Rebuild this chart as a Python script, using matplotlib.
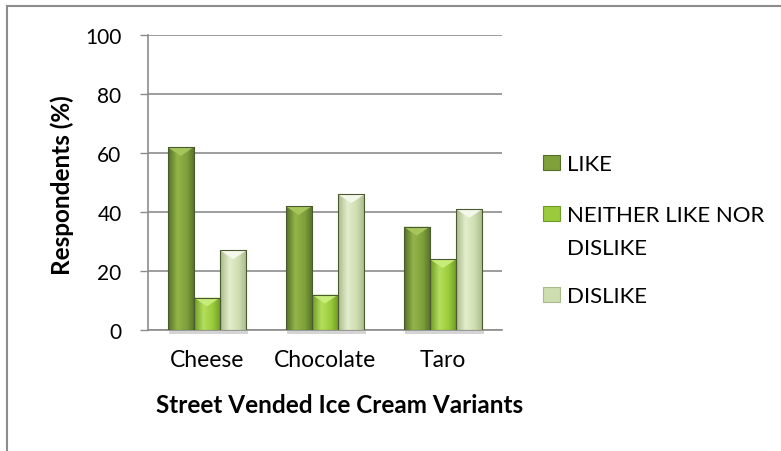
import numpy as np
import matplotlib
matplotlib.use("Agg")
import matplotlib.pyplot as plt
from matplotlib.patches import Rectangle, Polygon
from matplotlib.colors import LinearSegmentedColormap
from matplotlib.lines import Line2D

categories = ["Cheese", "Chocolate", "Taro"]
series_names = ["LIKE", "NEITHER LIKE NOR\nDISLIKE", "DISLIKE"]
like = [62, 42, 35]
neither = [11, 12, 24]
dislike = [27, 46, 41]
y_ticks = [0, 20, 40, 60, 80, 100]

# (edge-dark, mid, highlight, bevel) for each series' cylinder-like shading
palettes = [
    ("#55702a", "#7fa03a", "#93b548", "#a6c65c"),
    ("#6f9a26", "#9acb3c", "#b4df5c", "#c8ec7a"),
    ("#a9b98a", "#cfdeb0", "#e3edcd", "#f4f8ea"),
]

FONT = "Lato"
plt.rcParams["font.family"] = FONT

W, H = 781, 452
fig = plt.figure(figsize=(W / 100, H / 100), dpi=100)
ax = fig.add_axes([148 / W, 121 / H, 354 / W, 295 / H])


def fx(px):
    return px / W


def fy(py):
    return 1 - py / H


bar_w = 0.223
x = np.arange(len(categories))
values = [like, neither, dislike]

grad = np.linspace(0, 1, 64).reshape(1, -1)
for s, vals in enumerate(values):
    dark, mid, light, bevel = palettes[s]
    cmap = LinearSegmentedColormap.from_list(
        f"s{s}", [(0, dark), (0.35, light), (0.7, mid), (1, dark)])
    offs = (s - 1) * bar_w
    for i, v in enumerate(vals):
        left = x[i] + offs - bar_w / 2
        # soft shadow under the bar
        ax.add_patch(Rectangle((left + 0.01, -1.2), bar_w, 1.2,
                               facecolor="#d4d4d4", edgecolor="none",
                               zorder=2, clip_on=False))
        rect = Rectangle((left, 0), bar_w, v, facecolor="none",
                         edgecolor="#4a5a30", linewidth=0.8, zorder=4)
        ax.add_patch(rect)
        im = ax.imshow(grad, cmap=cmap, aspect="auto",
                       extent=(left, left + bar_w, 0, v), zorder=3)
        im.set_clip_path(rect)
        # bevelled top
        h = 3.0
        tri = Polygon([(left, v), (left + bar_w, v),
                       (left + bar_w / 2, v - h)], closed=True,
                      facecolor=bevel, edgecolor="none", zorder=3.5)
        ax.add_patch(tri)

ax.set_xlim(-0.5, 2.5)
ax.set_ylim(0, 100)
ax.set_yticks(y_ticks)
ax.set_yticklabels([str(t) for t in y_ticks], fontsize=15)
ax.set_xticks(x)
ax.set_xticklabels(categories, fontsize=16.5)
ax.tick_params(axis="x", length=0, pad=14)
ax.tick_params(axis="y", length=6, width=1, color="#8c8c8c", pad=13)
ax.grid(axis="y", color="#8c8c8c", linewidth=1.2, zorder=1)
ax.set_axisbelow(True)
for side in ["top", "right"]:
    ax.spines[side].set_visible(False)
for side in ["left", "bottom"]:
    ax.spines[side].set_color("#8c8c8c")
    ax.spines[side].set_linewidth(1.2)

fig.text(fx(340), fy(406), "Street Vended Ice Cream Variants", fontsize=17.5,
         fontweight="bold", ha="center", va="center")
fig.text(fx(62), fy(185), "Respondents (%)", fontsize=17.5,
         fontweight="bold", ha="center", va="center", rotation=90)

# legend drawn in figure pixels
legend_rows = [(163, 0, [163]), (214, 1, [214, 247]), (295, 2, [295])]
for ypix, s, line_ys in legend_rows:
    dark, mid, light, bevel = palettes[s]
    fig.patches.append(Rectangle((fx(543), fy(ypix + 7.5)), 17 / W, 15 / H,
                                 transform=fig.transFigure, facecolor=mid,
                                 edgecolor=dark, linewidth=0.8))
    for line, ly in zip(series_names[s].split("\n"), line_ys):
        fig.text(fx(567), fy(ly), line, fontsize=16, va="center_baseline",
                 ha="left")

# outer chart frame (top and left visible)
fig.add_artist(Line2D([fx(6.5), fx(6.5)], [0, fy(6.5)],
                      transform=fig.transFigure, color="#8c8c8c", lw=1.5))
fig.add_artist(Line2D([fx(6.5), 1], [fy(6.5), fy(6.5)],
                      transform=fig.transFigure, color="#8c8c8c", lw=1.5))

fig.savefig("out.png", dpi=100)
